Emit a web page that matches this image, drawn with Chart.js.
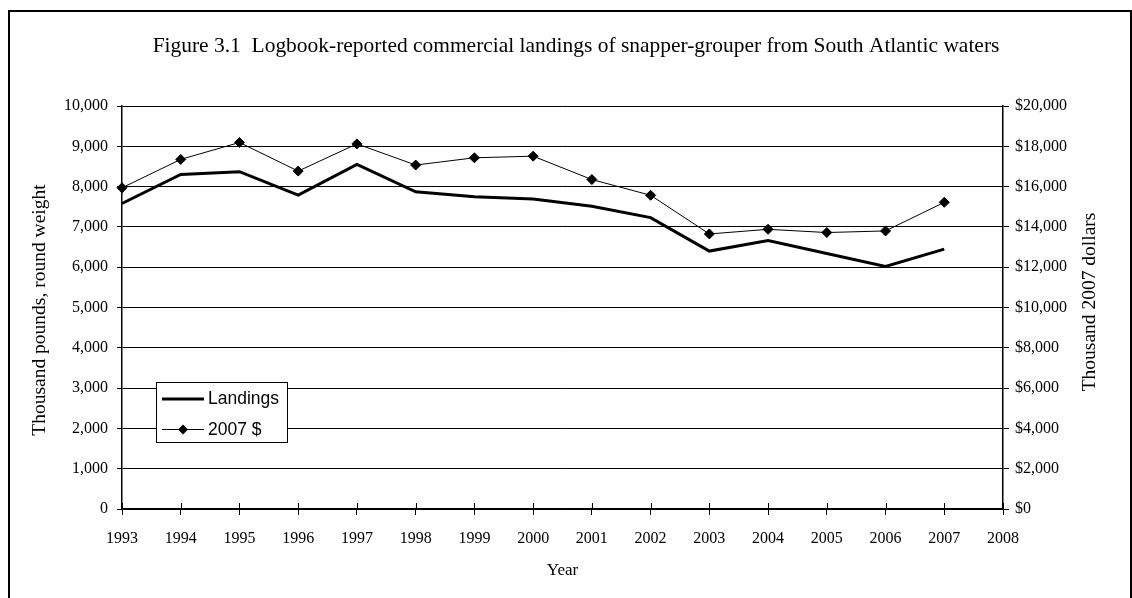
<!DOCTYPE html>
<html>
<head>
<meta charset="utf-8">
<script src="https://cdn.jsdelivr.net/npm/chart.js@4.4.1/dist/chart.umd.min.js"></script>
<style>
html,body{margin:0;padding:0;background:#fff;}
#wrap{width:1132px;height:598px;position:relative;}
</style>
</head>
<body>
<div id="wrap"><canvas id="c" width="1132" height="598"></canvas></div>
<script>
const years = ['1993','1994','1995','1996','1997','1998','1999','2000','2001','2002','2003','2004','2005','2006','2007','2008'];
const landings = [7580, 8300, 8370, 7790, 8550, 7870, 7750, 7690, 7510, 7230, 6400, 6660, 6340, 6020, 6450];
const dollars2007 = [15940, 17350, 18190, 16770, 18120, 17070, 17430, 17510, 16350, 15570, 13650, 13880, 13720, 13800, 15220];
const titleText = 'Figure 3.1  Logbook-reported commercial landings of snapper-grouper from South Atlantic waters';
const leftTitle = 'Thousand pounds, round weight';
const rightTitle = 'Thousand 2007 dollars';
const xTitle = 'Year';
const legendLabels = ['Landings', '2007 $'];

const SERIF = '"Liberation Serif", "Times New Roman", serif';
const SANS = '"Liberation Sans", Arial, sans-serif';

const decor = {
  id: 'decor',
  beforeDraw(chart) {
    const ctx = chart.ctx;
    ctx.save();
    ctx.fillStyle = '#fff';
    ctx.fillRect(0, 0, chart.width, chart.height);
    ctx.restore();
  },
  afterDraw(chart) {
    const ctx = chart.ctx;
    const ca = chart.chartArea;
    const xs = chart.scales.x;
    ctx.save();
    // frame
    ctx.strokeStyle = '#000';
    ctx.lineWidth = 2;
    ctx.strokeRect(9, 11, 1122, 620);
    // upward x ticks
    ctx.lineWidth = 1;
    ctx.beginPath();
    for (let i = 0; i < years.length; i++) {
      const px = Math.round(xs.getPixelForTick(i)) + 0.5;
      ctx.moveTo(px, ca.bottom - 6);
      ctx.lineTo(px, ca.bottom);
    }
    ctx.stroke();
    // title
    ctx.fillStyle = '#000';
    ctx.textAlign = 'center';
    ctx.textBaseline = 'alphabetic';
    let fs = 20;
    ctx.font = fs + 'px ' + SERIF;
    const w = ctx.measureText(titleText).width;
    fs = fs * 847 / w;
    ctx.font = fs.toFixed(2) + 'px ' + SERIF;
    ctx.fillText(titleText, 576, 52);
    // axis titles
    ctx.font = '17px ' + SERIF;
    ctx.textBaseline = 'middle';
    ctx.fillText(xTitle, (ca.left + ca.right) / 2, 571);
    ctx.font = '19.5px ' + SERIF;
    ctx.save();
    ctx.translate(40, 310);
    ctx.rotate(-Math.PI / 2);
    ctx.fillText(leftTitle, 0, 0);
    ctx.restore();
    ctx.save();
    ctx.translate(1090, 302);
    ctx.rotate(-Math.PI / 2);
    ctx.fillText(rightTitle, 0, 0);
    ctx.restore();
    // legend
    const bx = 156.5, by = 382.5, bw = 131, bh = 60;
    ctx.fillStyle = '#fff';
    ctx.fillRect(bx, by, bw, bh);
    ctx.strokeStyle = '#000';
    ctx.lineWidth = 1;
    ctx.strokeRect(bx, by, bw, bh);
    ctx.lineWidth = 3;
    ctx.beginPath();
    ctx.moveTo(162, 399); ctx.lineTo(204, 399);
    ctx.stroke();
    ctx.lineWidth = 1;
    ctx.beginPath();
    ctx.moveTo(162, 429.5); ctx.lineTo(204, 429.5);
    ctx.stroke();
    ctx.fillStyle = '#000';
    ctx.beginPath();
    ctx.moveTo(183, 424.5); ctx.lineTo(188, 429.5); ctx.lineTo(183, 434.5); ctx.lineTo(178, 429.5);
    ctx.closePath();
    ctx.fill();
    ctx.font = '17.5px ' + SANS;
    ctx.textAlign = 'left';
    ctx.textBaseline = 'middle';
    ctx.fillText(legendLabels[0], 208, 399);
    ctx.fillText(legendLabels[1], 208, 430);
    ctx.restore();
  }
};

Chart.defaults.font.family = SERIF;
Chart.defaults.color = '#000';

new Chart(document.getElementById('c'), {
  type: 'line',
  data: {
    labels: years,
    datasets: [
      {
        label: legendLabels[0],
        data: landings,
        yAxisID: 'y',
        borderColor: '#000',
        borderWidth: 3,
        pointRadius: 0,
        tension: 0,
        fill: false
      },
      {
        label: legendLabels[1],
        data: dollars2007,
        yAxisID: 'y2',
        borderColor: '#000',
        backgroundColor: '#000',
        borderWidth: 1,
        pointStyle: 'rectRot',
        pointRadius: 5,
        pointBorderWidth: 1,
        pointBorderColor: '#000',
        pointBackgroundColor: '#000',
        tension: 0,
        fill: false
      }
    ]
  },
  options: {
    responsive: false,
    animation: false,
    devicePixelRatio: 1,
    layout: { padding: { top: 106, left: 0, right: 0, bottom: 0 } },
    plugins: { legend: { display: false }, title: { display: false }, tooltip: { enabled: false } },
    scales: {
      x: {
        type: 'category',
        offset: false,
        grid: { display: true, drawOnChartArea: false, drawTicks: true, tickLength: 6, color: '#000', lineWidth: 1 },
        border: { display: true, color: '#000', width: 1.5 },
        ticks: { font: { size: 16, family: SERIF }, color: '#000', padding: 14, maxRotation: 0, autoSkip: false },
        afterFit(s) { s.height = 89; }
      },
      y: {
        position: 'left',
        min: 0, max: 10000,
        grid: { color: '#000', lineWidth: 1, tickLength: 5, drawTicks: true },
        border: { display: true, color: '#000', width: 1.5 },
        ticks: { stepSize: 1000, font: { size: 16, family: SERIF }, color: '#000', padding: 9,
          callback: v => v.toLocaleString('en-US') },
        afterFit(s) { s.width = 122; }
      },
      y2: {
        position: 'right',
        min: 0, max: 20000,
        grid: { drawOnChartArea: false, color: '#000', lineWidth: 1, tickLength: 6, drawTicks: true },
        border: { display: true, color: '#000', width: 1.5 },
        ticks: { stepSize: 2000, font: { size: 16, family: SERIF }, color: '#000', padding: 6,
          callback: v => '$' + v.toLocaleString('en-US') },
        afterFit(s) { s.width = 129; }
      }
    }
  },
  plugins: [decor]
});
</script>
</body>
</html>
